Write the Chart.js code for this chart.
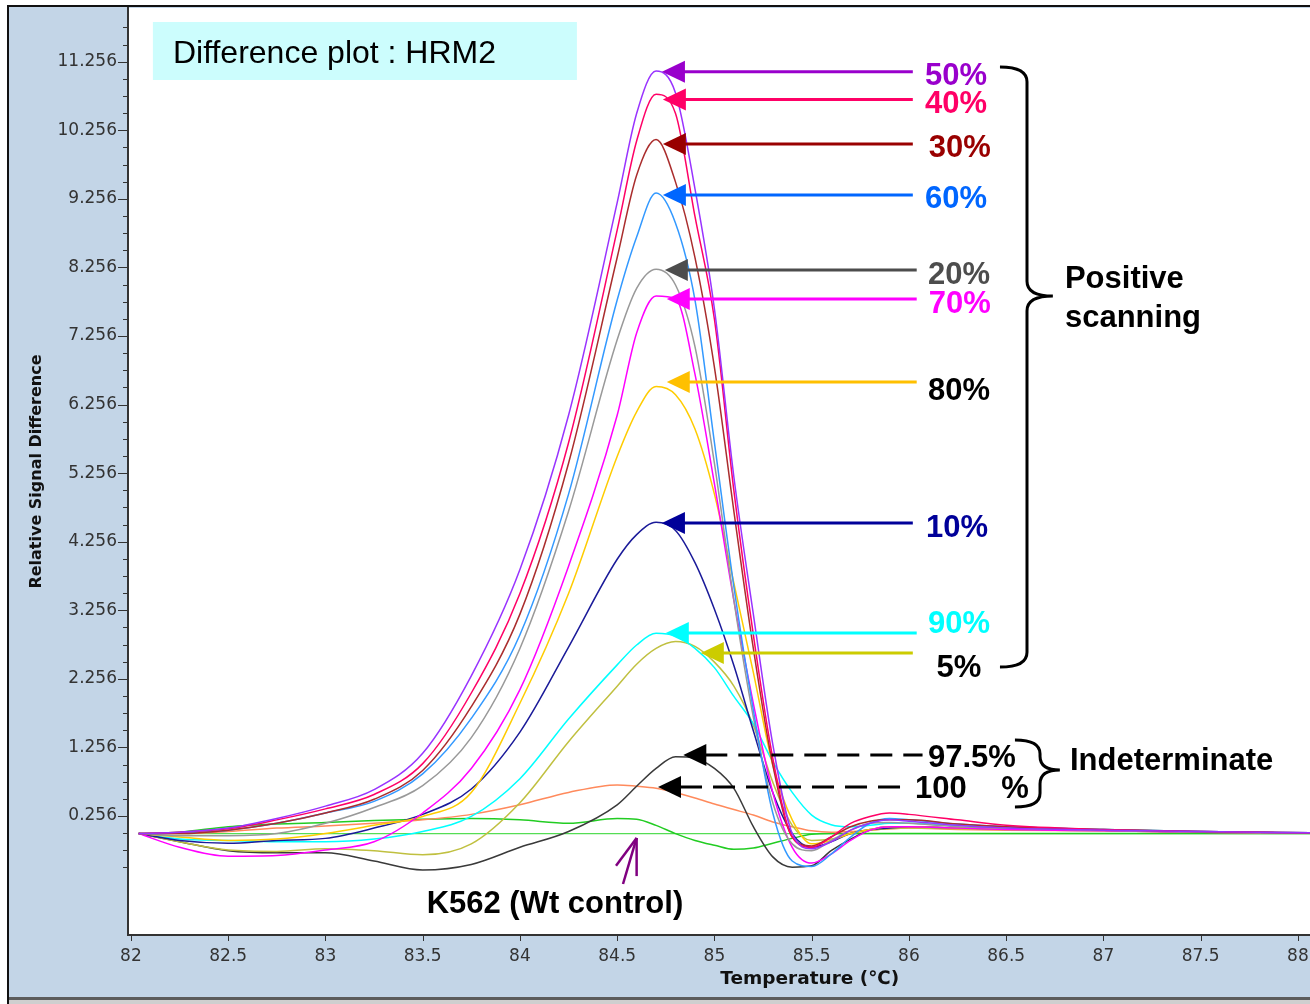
<!DOCTYPE html>
<html>
<head>
<meta charset="utf-8">
<title>Difference plot : HRM2</title>
<script src="https://cdn.jsdelivr.net/npm/chart.js@4.4.1/dist/chart.umd.min.js"></script>
<style>
  html, body { margin: 0; padding: 0; background: #fff; overflow: hidden; }
  canvas { display: block; }
</style>
</head>
<body>
<canvas id="hrmChart" width="1310" height="1004"></canvas>
<script>
// temperature grid (°C) shared by the difference curves
const temps = [82.04, 82.25, 82.5, 82.75, 83, 83.25, 83.5, 83.75, 84, 84.25, 84.5, 84.6, 84.7, 84.8, 84.9,
  85, 85.1, 85.2, 85.3, 85.4, 85.5, 85.6, 85.7, 85.8, 85.9, 86, 86.25, 86.5, 87, 87.5, 88.1];

// relative signal difference, one curve per dilution
const pct50 = [0, 0.02, 0.08, 0.22, 0.40, 0.64, 1.17, 2.3, 3.85, 6.1, 9.2, 10.5, 11.12, 10.8, 9.4,
  7.65, 5.2, 3.2, 1.3, 0.0, -0.22, -0.12, 0.05, 0.15, 0.2, 0.18, 0.12, 0.08, 0.05, 0.03, 0.01];
const pct40 = [0, 0.02, 0.07, 0.2, 0.36, 0.57, 1.02, 2.05, 3.5, 5.7, 8.8, 10.1, 10.78, 10.5, 9.0,
  7.5, 5.0, 2.9, 1.1, -0.05, -0.2, -0.05, 0.15, 0.25, 0.3, 0.28, 0.2, 0.12, 0.06, 0.03, 0.01];
const pct30 = [0, 0.0, 0.05, 0.15, 0.3, 0.5, 0.92, 1.85, 3.2, 5.4, 8.4, 9.6, 10.12, 9.5, 8.4,
  6.8, 4.7, 2.7, 1.0, -0.05, -0.18, -0.05, 0.1, 0.18, 0.2, 0.2, 0.14, 0.1, 0.06, 0.03, 0.01];
const pct60 = [0, 0.01, 0.05, 0.15, 0.3, 0.47, 0.87, 1.68, 2.9, 4.95, 7.78, 8.7, 9.34, 8.9, 7.78,
  5.7, 3.6, 1.8, 0.3, -0.4, -0.48, -0.3, -0.05, 0.15, 0.22, 0.2, 0.14, 0.1, 0.06, 0.03, 0.01];
const pct20 = [0, -0.03, -0.03, 0.0, 0.15, 0.38, 0.7, 1.4, 2.7, 4.7, 7.2, 7.95, 8.23, 8.0, 7.1,
  5.4, 3.4, 1.7, 0.45, -0.15, -0.25, -0.1, 0.05, 0.15, 0.16, 0.15, 0.1, 0.08, 0.05, 0.02, 0.01];
const pct70 = [0, -0.2, -0.33, -0.32, -0.24, -0.12, 0.3, 0.95, 2.1, 3.9, 6.1, 7.3, 7.84, 7.8, 6.7,
  5.1, 3.4, 1.9, 0.6, -0.2, -0.43, -0.3, -0.1, 0.05, 0.1, 0.1, 0.08, 0.06, 0.04, 0.02, 0.01];
const pct80 = [0, -0.05, -0.1, -0.08, 0.0, 0.12, 0.25, 0.6, 1.9, 3.5, 5.5, 6.15, 6.52, 6.4, 5.9,
  4.95, 3.65, 2.35, 1.0, 0.2, -0.15, -0.1, 0.0, 0.06, 0.1, 0.1, 0.08, 0.07, 0.05, 0.02, 0.01];
const pct10 = [0, -0.1, -0.14, -0.1, -0.07, 0.08, 0.28, 0.65, 1.48, 2.72, 4.0, 4.36, 4.54, 4.42, 3.95,
  3.27, 2.45, 1.5, 0.6, 0.0, -0.2, -0.12, 0.0, 0.06, 0.08, 0.1, 0.08, 0.07, 0.05, 0.02, 0.01];
const pct90 = [0, -0.08, -0.1, -0.12, -0.12, -0.08, 0.03, 0.25, 0.8, 1.67, 2.46, 2.75, 2.92, 2.88, 2.7,
  2.42, 2.0, 1.6, 1.05, 0.6, 0.27, 0.13, 0.1, 0.12, 0.15, 0.15, 0.12, 0.1, 0.06, 0.03, 0.01];
const pct5 = [0, -0.12, -0.24, -0.26, -0.22, -0.25, -0.31, -0.15, 0.45, 1.34, 2.15, 2.47, 2.7, 2.8, 2.73,
  2.5, 2.15, 1.58, 0.75, 0.12, -0.1, -0.08, 0.0, 0.05, 0.07, 0.08, 0.07, 0.06, 0.04, 0.02, 0.01];
const pct975 = [0, -0.12, -0.25, -0.28, -0.28, -0.4, -0.53, -0.45, -0.2, 0.03, 0.42, 0.69, 0.95, 1.12, 1.1,
  0.95, 0.66, 0.1, -0.34, -0.49, -0.47, -0.25, -0.08, 0.05, 0.1, 0.1, 0.08, 0.07, 0.05, 0.02, 0.01];
const pct100 = [0, 0.0, 0.03, 0.08, 0.11, 0.15, 0.2, 0.28, 0.42, 0.6, 0.71, 0.69, 0.66, 0.6, 0.52,
  0.43, 0.35, 0.27, 0.17, 0.1, 0.04, 0.02, 0.03, 0.05, 0.07, 0.08, 0.06, 0.05, 0.04, 0.02, 0.01];
const k562 = [0, 0.02, 0.1, 0.14, 0.16, 0.19, 0.21, 0.22, 0.2, 0.15, 0.22, 0.21, 0.12, 0.0, -0.1,
  -0.17, -0.23, -0.21, -0.14, -0.07, -0.01, 0, 0, 0, 0, 0, 0, 0, 0, 0, 0];

// wild type reference (flat line)
const refTemps = [82.04, 88.1];
const refValues = [0, 0];

const xTickValues = [82, 82.5, 83, 83.5, 84, 84.5, 85, 85.5, 86, 86.5, 87, 87.5, 88];
const yTickLabels = ['0.256', '1.256', '2.256', '3.256', '4.256', '5.256', '6.256', '7.256',
  '8.256', '9.256', '10.256', '11.256'];

const PANEL = '#c3d5e7';
const BOLD = '"Liberation Sans", Arial, sans-serif';

const curves = [
  ['50%', pct50, '#9933ff'],
  ['40%', pct40, '#ff0066'],
  ['30%', pct30, '#aa2d2d'],
  ['60%', pct60, '#3399ff'],
  ['20%', pct20, '#999999'],
  ['70%', pct70, '#ff00ff'],
  ['80%', pct80, '#ffcc00'],
  ['10%', pct10, '#1a1a99'],
  ['90%', pct90, '#00ffff'],
  ['5%', pct5, '#c0c040'],
  ['97.5%', pct975, '#3a3a3a'],
  ['100%', pct100, '#ff8a5c'],
  ['K562', k562, '#22cc22']
];

// label, arrow colour, text colour, arrow value, tip temp, line end temp, text value, text temp, dashed
const arrows = [
  ['50%', '#9900cc', '#9900cc', 11.111, 84.73, 86.02, 11.048, 86.242, false],
  ['40%', '#ff0066', '#ff0066', 10.705, 84.735, 86.02, 10.639, 86.242, false],
  ['30%', '#990000', '#990000', 10.056, 84.735, 86.02, 9.998, 86.262, false],
  ['60%', '#0066ff', '#0066ff', 9.312, 84.735, 86.02, 9.24, 86.242, false],
  ['20%', '#4d4d4d', '#4d4d4d', 8.219, 84.745, 86.04, 8.146, 86.257, false],
  ['70%', '#ff00ff', '#ff00ff', 7.796, 84.755, 86.04, 7.723, 86.262, false],
  ['80%', '#ffc000', '#000000', 6.585, 84.755, 86.04, 6.454, 86.257, false],
  ['10%', '#000099', '#000099', 4.529, 84.73, 86.02, 4.456, 86.247, false],
  ['90%', '#00ffff', '#00ffff', 2.925, 84.75, 86.04, 3.056, 86.257, false],
  ['5%', '#cccc00', '#000000', 2.633, 84.93, 86.02, 2.414, 86.257, false],
  ['97.5%', '#000000', '#000000', 1.146, 84.84, 86.07, 1.102, 86.098, true],
  ['100    %', '#000000', '#000000', 0.679, 84.71, 85.99, 0.65, 86.031, true]
];

const yMajor = yTickLabels.map(Number);
const yAllTicks = [];
for (let k = -3; k <= 46; k++) yAllTicks.push(+(0.256 + k * 0.25).toFixed(3));

function brace(ctx, xOuter, xLine, xTip, yTop, yMid, yBot) {
  const r = Math.abs(xLine - xOuter) * 0.55;
  ctx.beginPath();
  ctx.moveTo(xOuter, yTop);
  ctx.quadraticCurveTo(xLine, yTop, xLine, yTop + r);
  ctx.lineTo(xLine, yMid - r);
  ctx.quadraticCurveTo(xLine, yMid, xTip, yMid);
  ctx.moveTo(xTip, yMid);
  ctx.quadraticCurveTo(xLine, yMid, xLine, yMid + r);
  ctx.lineTo(xLine, yBot - r);
  ctx.quadraticCurveTo(xLine, yBot, xOuter, yBot);
  ctx.stroke();
}

function noPadding(scale) {
  scale.paddingLeft = 0;
  scale.paddingRight = 0;
  scale.paddingTop = 0;
  scale.paddingBottom = 0;
}

const decorations = {
  id: 'decorations',
  beforeDraw(chart) {
    const { ctx, chartArea: a, width, height } = chart;
    ctx.save();
    ctx.fillStyle = '#fff';
    ctx.fillRect(0, 0, width, height);
    ctx.fillStyle = PANEL;
    ctx.fillRect(9, 7, width - 9, 990);
    ctx.fillStyle = '#fff';
    ctx.fillRect(a.left, a.top, a.right - a.left, a.bottom - a.top);
    ctx.fillStyle = '#5c5c5c';
    ctx.fillRect(8, 997, width, 3);
    ctx.fillStyle = '#cfcfcf';
    ctx.fillRect(8, 1000, width, 4);
    ctx.strokeStyle = '#111';
    ctx.lineWidth = 2;
    ctx.beginPath();
    ctx.moveTo(8, height);
    ctx.lineTo(8, 6);
    ctx.lineTo(width, 6);
    ctx.stroke();
    ctx.restore();
  },
  afterDraw(chart) {
    const { ctx } = chart;
    const xs = chart.scales.x, ys = chart.scales.y;
    const px = t => xs.getPixelForValue(t);
    const py = v => ys.getPixelForValue(v);
    ctx.save();

    // tick marks
    ctx.strokeStyle = '#333';
    ctx.lineWidth = 1;
    ys.ticks.forEach(t => {
      const y = Math.round(py(t.value)) + 0.5;
      const len = yMajor.includes(t.value) ? 10 : 5;
      ctx.beginPath();
      ctx.moveTo(ys.right - len, y);
      ctx.lineTo(ys.right, y);
      ctx.stroke();
    });
    xs.ticks.forEach(t => {
      const x = Math.round(px(t.value)) + 0.5;
      ctx.beginPath();
      ctx.moveTo(x, xs.top);
      ctx.lineTo(x, xs.top + 6);
      ctx.stroke();
    });

    // x axis title
    ctx.fillStyle = '#111';
    ctx.font = 'bold 18.5px "DejaVu Sans", sans-serif';
    ctx.textAlign = 'center';
    ctx.textBaseline = 'middle';
    ctx.fillText('Temperature (\u2103)', px(85.49), 979);

    // title box
    const bx0 = px(82.113), bx1 = px(84.293), by0 = py(11.835), by1 = py(10.989);
    ctx.fillStyle = '#ccfdfd';
    ctx.fillRect(bx0, by0, bx1 - bx0, by1 - by0);
    ctx.fillStyle = '#000';
    ctx.font = '32px ' + BOLD;
    ctx.textAlign = 'left';
    ctx.textBaseline = 'alphabetic';
    ctx.fillText('Difference plot : HRM2', px(82.216), py(11.237));

    // arrows with labels
    arrows.forEach(([label, color, textColor, val, tipT, endT, textVal, textT, dashed]) => {
      const y = py(val), tip = px(tipT), end = px(endT);
      ctx.strokeStyle = color;
      ctx.fillStyle = color;
      ctx.lineWidth = 3;
      ctx.setLineDash(dashed ? [22, 11] : []);
      ctx.beginPath();
      ctx.moveTo(tip + 22, y);
      ctx.lineTo(end, y);
      ctx.stroke();
      ctx.setLineDash([]);
      ctx.beginPath();
      ctx.moveTo(tip, y);
      ctx.lineTo(tip + 23, y - 11);
      ctx.lineTo(tip + 23, y + 11);
      ctx.closePath();
      ctx.fill();

      ctx.fillStyle = textColor;
      ctx.font = 'bold 31px ' + BOLD;
      ctx.textBaseline = 'middle';
      ctx.textAlign = dashed ? 'left' : 'center';
      ctx.fillText(label, px(textT), py(textVal));
    });

    // braces and group texts
    ctx.strokeStyle = '#000';
    ctx.lineWidth = 3;
    brace(ctx, px(86.468), px(86.607), px(86.74), py(11.179), py(7.839), py(2.429));
    brace(ctx, px(86.545), px(86.674), px(86.776), py(1.364), py(0.927), py(0.387));
    ctx.fillStyle = '#000';
    ctx.font = 'bold 31px ' + BOLD;
    ctx.textAlign = 'left';
    ctx.textBaseline = 'alphabetic';
    ctx.fillText('Positive', px(86.802), py(7.956));
    ctx.fillText('scanning', px(86.802), py(7.387));
    ctx.fillText('Indeterminate', px(86.828), py(0.927));
    ctx.textAlign = 'center';
    ctx.fillText('K562 (Wt control)', px(84.18), py(-1.157));

    // open purple arrow toward the wild type curve
    ctx.strokeStyle = '#800080';
    ctx.lineWidth = 2.5;
    const tx = px(84.60), ty = py(-0.064);
    [[84.494, -0.47], [84.53, -0.735], [84.60, -0.62]].forEach(([t, v]) => {
      ctx.beginPath();
      ctx.moveTo(tx, ty);
      ctx.lineTo(px(t), py(v));
      ctx.stroke();
    });

    ctx.restore();
  }
};

const datasets = curves.map(([label, values, color]) => ({
  label,
  data: temps.map((t, i) => ({ x: t, y: values[i] })),
  borderColor: color,
  borderWidth: 1.5,
  pointRadius: 0,
  fill: false,
  cubicInterpolationMode: 'monotone'
}));
datasets.push({
  label: 'Wt reference',
  data: refTemps.map((t, i) => ({ x: t, y: refValues[i] })),
  borderColor: '#55dd55',
  borderWidth: 1.2,
  pointRadius: 0,
  fill: false
});

new Chart(document.getElementById('hrmChart'), {
  type: 'line',
  data: { datasets },
  options: {
    responsive: false,
    animation: false,
    devicePixelRatio: 1,
    events: [],
    layout: { padding: { left: 0, right: 0, top: 8, bottom: 0 } },
    plugins: { legend: { display: false }, tooltip: { enabled: false } },
    scales: {
      x: {
        type: 'linear',
        min: 81.985,
        max: 88.062,
        afterFit(scale) { scale.height = 69; noPadding(scale); },
        afterBuildTicks(scale) { scale.ticks = xTickValues.map(v => ({ value: v })); },
        grid: { display: false, drawTicks: false },
        border: { display: true, color: '#333', width: 2 },
        ticks: {
          autoSkip: false,
          maxRotation: 0,
          padding: 11,
          color: '#333',
          font: { family: 'DejaVu Sans', size: 17 },
          callback: v => String(v)
        }
      },
      y: {
        type: 'linear',
        min: -1.479,
        max: 12.039,
        afterFit(scale) { scale.width = 128; noPadding(scale); },
        afterBuildTicks(scale) { scale.ticks = yAllTicks.map(v => ({ value: v })); },
        grid: { display: false, drawTicks: false },
        border: { display: true, color: '#333', width: 2 },
        title: {
          display: true,
          text: 'Relative Signal Difference',
          color: '#111',
          font: { family: 'DejaVu Sans', size: 16, weight: 'bold' },
          padding: { top: 27, bottom: 0 }
        },
        ticks: {
          autoSkip: false,
          padding: 11,
          color: '#333',
          font: { family: 'DejaVu Sans', size: 17 },
          callback: v => (yMajor.includes(v) ? v.toFixed(3) : '')
        }
      }
    }
  },
  plugins: [decorations]
});
</script>
</body>
</html>
